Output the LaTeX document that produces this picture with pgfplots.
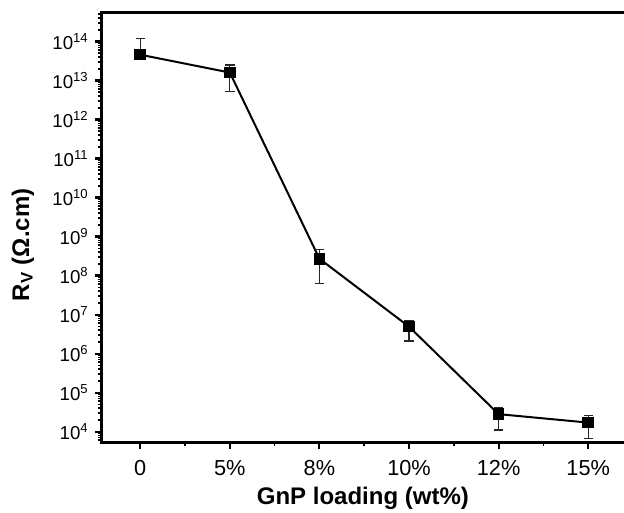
\documentclass[border=0pt]{standalone}
\usepackage{pgfplots}
\pgfplotsset{compat=1.18}
\usepackage{fontspec}
\setmainfont{Liberation Sans}
\begin{document}
\begin{tikzpicture}
\useasboundingbox (-76.3pt,-52.7pt) rectangle (391.7pt,332pt);
\begin{axis}[
  scale only axis, width=391.7pt, height=322.5pt,
  at={(0,0)}, anchor=south west,
  ymode=log, log basis y=10,
  xmin=-0.43, xmax=5.4, ymin=5.2e3, ymax=5.5e14,
  separate axis lines,
  axis x line*=box, axis y line*=left,
  axis line style={line width=2.5pt, -, line cap=rect},
  xtick pos=left, ytick pos=left,
  tick align=outside,
  major tick length=5pt, minor tick length=2.5pt,
  every tick/.style={black, line width=1.6pt},
  minor tick style={black, line width=1.2pt},
  xtick={0,1,2,3,4,5},
  xticklabels={0,5\%,8\%,10\%,12\%,15\%},
  minor x tick num=1,
  ytick={1e4,1e5,1e6,1e7,1e8,1e9,1e10,1e11,1e12,1e13,1e14},
  yticklabels={10\textsuperscript{4},10\textsuperscript{5},10\textsuperscript{6},10\textsuperscript{7},10\textsuperscript{8},10\textsuperscript{9},10\textsuperscript{10},10\textsuperscript{11},10\textsuperscript{12},10\textsuperscript{13},10\textsuperscript{14}},
  minor ytick={6e3,7e3,8e3,9e3,
    2e4,3e4,4e4,5e4,6e4,7e4,8e4,9e4,
    2e5,3e5,4e5,5e5,6e5,7e5,8e5,9e5,
    2e6,3e6,4e6,5e6,6e6,7e6,8e6,9e6,
    2e7,3e7,4e7,5e7,6e7,7e7,8e7,9e7,
    2e8,3e8,4e8,5e8,6e8,7e8,8e8,9e8,
    2e9,3e9,4e9,5e9,6e9,7e9,8e9,9e9,
    2e10,3e10,4e10,5e10,6e10,7e10,8e10,9e10,
    2e11,3e11,4e11,5e11,6e11,7e11,8e11,9e11,
    2e12,3e12,4e12,5e12,6e12,7e12,8e12,9e12,
    2e13,3e13,4e13,5e13,6e13,7e13,8e13,9e13,
    2e14,3e14,4e14,5e14},
  xticklabel style={font=\fontsize{16.3}{19}\selectfont, yshift=-4.5pt},
  yticklabel style={font=\fontsize{14}{17}\selectfont, xshift=-1.5pt},
  xlabel={\textbf{GnP loading (wt\%)}},
  ylabel={\textbf{R\textsubscript{V} (Ω.cm)}},
  label style={font=\fontsize{18}{21}\selectfont},
  xlabel style={at={(axis description cs:0.5,0)}, anchor=center, yshift=-41.5pt},
  ylabel style={at={(axis description cs:-0.151,0.46)}, anchor=center},
  clip=false,
]
\addplot[black, line width=1.5pt, mark=square*, mark size=3.6pt,
  error bars/.cd, y dir=both, y explicit,
  error bar style={black!85, line width=0.8pt},
  error mark options={rotate=90, black!85, mark size=3.5pt, line width=0.8pt}]
coordinates {
  (0,4.6e13) += (0,7.1e13) -= (0,1e13)
  (1,1.6e13) += (0,0.9e13) -= (0,1.09e13)
  (2,2.7e8) += (0,1.9e8) -= (0,2.08e8)
  (3,4.9e6) += (0,2.2e6) -= (0,2.8e6)
  (4,2.8e4) += (0,1.3e4) -= (0,1.7e4)
  (5,1.7e4) += (0,0.9e4) -= (0,1.05e4)
};
\end{axis}
\end{tikzpicture}
\end{document}
